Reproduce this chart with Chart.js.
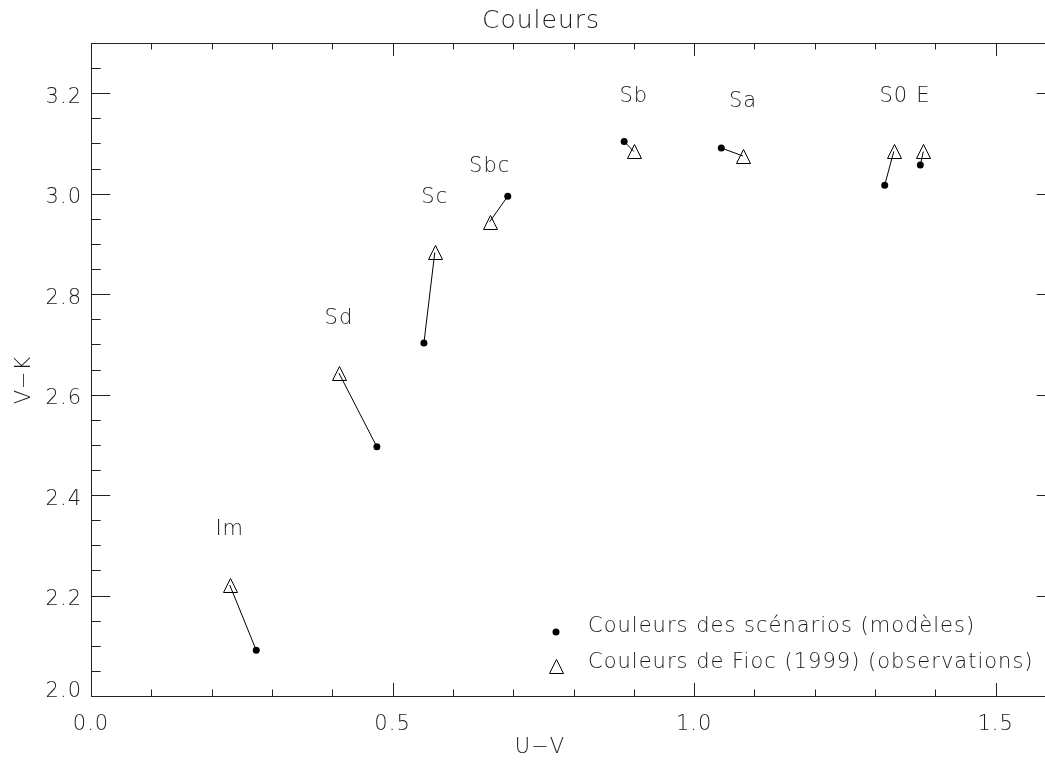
<!DOCTYPE html>
<html>
<head>
<meta charset="utf-8">
<title>Couleurs</title>
<script src="https://cdn.jsdelivr.net/npm/chart.js@4"></script>
<style>
    html,body{margin:0;padding:0;background:#fff;overflow:hidden;}
    canvas{display:block;}
</style>
</head>
<body>
<canvas id="chart" width="1065" height="762"></canvas>
<script>
// types morphologiques
const types=['Im','Sd','Sc','Sbc','Sb','Sa','S0','E'];
// couleurs des scenarios (modeles)
const modelUV=[0.274,0.474,0.552,0.691,0.884,1.045,1.316,1.375];
const modelVK=[2.091,2.496,2.703,2.995,3.104,3.091,3.017,3.057];
// couleurs de Fioc (1999) (observations)
const obsUV=[0.230,0.411,0.570,0.661,0.900,1.081,1.331,1.380];
const obsVK=[2.221,2.643,2.883,2.944,3.084,3.075,3.084,3.084];

const xTicks=[0.0,0.5,1.0,1.5];
const xTickLabels=['0.0','0.5','1.0','1.5'];
const yTicks=[2.0,2.2,2.4,2.6,2.8,3.0,3.2];
const yTickLabels=['2.0','2.2','2.4','2.6','2.8','3.0','3.2'];

const FONT='200 21px "DejaVu Sans"';
const TITLE_FONT='200 25px "DejaVu Sans"';
const INK='#1a1a1a';

// triangle vide (psym=5), centre sur sa boite
function drawTriangle(ctx,x,y){
    x=Math.round(x)+0.5;
    y=Math.round(y)+0.5;
    ctx.beginPath();
    ctx.moveTo(x,y-7);
    ctx.lineTo(x-7,y+7);
    ctx.lineTo(x+7,y+7);
    ctx.closePath();
    ctx.stroke();
}

const datasets=[];
for(let i=0;i<types.length;i++){
    datasets.push({
        data:[{x:obsUV[i],y:obsVK[i]},{x:modelUV[i],y:modelVK[i]}],
        showLine:true,
        borderColor:'#000',
        borderWidth:1,
        pointRadius:0,
        order:3
    });
}
const modelIndex=datasets.length;
datasets.push({
    label:'Couleurs des scénarios (modèles)',
    data:modelUV.map((x,i)=>({x,y:modelVK[i]})),
    pointStyle:'circle',
    pointRadius:3.5,
    backgroundColor:'#000',
    borderWidth:0,
    order:1
});
const obsIndex=datasets.length;
datasets.push({
    label:'Couleurs de Fioc (1999) (observations)',
    data:obsUV.map((x,i)=>({x,y:obsVK[i]})),
    pointRadius:0,
    order:2
});

function text(ctx,str,x,y,align){
    ctx.textAlign=align||'center';
    ctx.fillText(str,x,y);
}

const axesPlugin={
    id:'idlAxes',
    afterDatasetsDraw(chart){
        const ctx=chart.ctx;
        ctx.save();
        ctx.strokeStyle='#000';
        ctx.lineWidth=1;
        chart.getDatasetMeta(obsIndex).data.forEach(p=>drawTriangle(ctx,p.x,p.y));
        ctx.restore();
    },
    afterDraw(chart){
        const ctx=chart.ctx;
        const a=chart.chartArea;
        const xs=chart.scales.x, ys=chart.scales.y;
        const w=a.right-a.left, h=a.bottom-a.top;
        const xMaj=h*0.02, yMaj=w*0.02;
        ctx.save();
        ctx.strokeStyle='#222';
        ctx.lineWidth=1;
        ctx.strokeRect(a.left+0.5,a.top+0.5,w,h);
        ctx.beginPath();
        // graduations x (bas et haut)
        for(let k=1;k<=15;k++){
            const v=k/10;
            const px=Math.round(xs.getPixelForValue(v))+0.5;
            const len=(k%5===0)?xMaj:xMaj/2;
            ctx.moveTo(px,a.bottom);ctx.lineTo(px,a.bottom-len);
            ctx.moveTo(px,a.top);ctx.lineTo(px,a.top+len);
        }
        // graduations y (gauche et droite)
        for(let k=1;k<26;k++){
            const v=2+k*0.05;
            const py=Math.round(ys.getPixelForValue(v))+0.5;
            const len=(k%4===0)?yMaj:yMaj/2;
            ctx.moveTo(a.left,py);ctx.lineTo(a.left+len,py);
            ctx.moveTo(a.right,py);ctx.lineTo(a.right-len,py);
        }
        ctx.stroke();

        ctx.fillStyle=INK;
        ctx.font=FONT;
        ctx.letterSpacing='1px';
        ctx.textBaseline='alphabetic';
        xTicks.forEach((v,i)=>text(ctx,xTickLabels[i],xs.getPixelForValue(v),730));
        yTicks.forEach((v,i)=>{
            const off=(i===0)?1:9.6;
            text(ctx,yTickLabels[i],a.left-9,ys.getPixelForValue(v)+off,'right');
        });

        // noms des types au-dessus des observations
        types.forEach((t,i)=>{
            text(ctx,t,xs.getPixelForValue(obsUV[i]),ys.getPixelForValue(obsVK[i])-49.5);
        });

        text(ctx,'U\u2212V',540,753);
        ctx.save();
        ctx.translate(30,380);
        ctx.rotate(-Math.PI/2);
        text(ctx,'V\u2212K',0,0);
        ctx.restore();

        // legende
        const lx=556;
        ctx.beginPath();
        ctx.arc(lx,632,3.5,0,Math.PI*2);
        ctx.fillStyle='#000';
        ctx.fill();
        ctx.strokeStyle='#000';
        drawTriangle(ctx,lx,666);
        ctx.fillStyle=INK;
        text(ctx,datasets[modelIndex].label,588,631.5,'left');
        text(ctx,datasets[obsIndex].label,588,668,'left');

        ctx.font=TITLE_FONT;
        text(ctx,'Couleurs',541,28);
        ctx.restore();
    }
};

new Chart(document.getElementById('chart'),{
    type:'scatter',
    data:{datasets},
    options:{
        responsive:false,
        animation:false,
        devicePixelRatio:1,
        layout:{padding:{left:0,right:9,top:43,bottom:0}},
        plugins:{legend:{display:false},tooltip:{enabled:false},title:{display:false}},
        scales:{
            x:{
                type:'linear',min:0,max:1.6,
                grid:{display:false},border:{display:false},
                ticks:{display:false},
                afterFit(scale){scale.height=66;}
            },
            y:{
                type:'linear',min:2.0,max:3.3,
                grid:{display:false},border:{display:false},
                ticks:{display:false},
                afterFit(scale){scale.width=91;}
            }
        }
    },
    plugins:[axesPlugin]
});
</script>
</body>
</html>
